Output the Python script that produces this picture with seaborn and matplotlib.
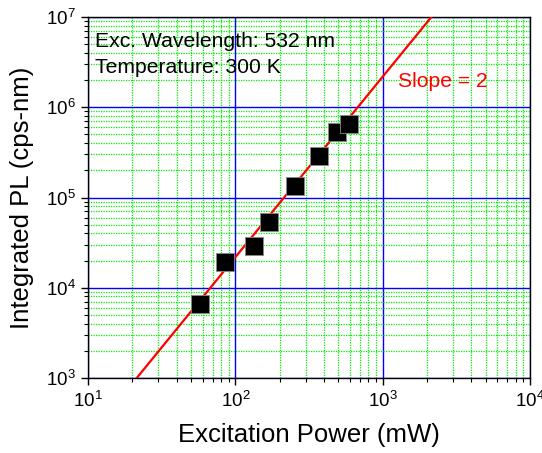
import numpy as np
import pandas as pd
import matplotlib
matplotlib.use("Agg")
import matplotlib.pyplot as plt
import seaborn as sns
from matplotlib.ticker import LogLocator, NullFormatter

# ---- data ----
power_mw = [57.8, 85.1, 134.5, 169.2, 254.0, 368.0, 487.0, 594.0]
integrated_pl = [6600, 19100, 29000, 53900, 135000, 290000, 527000, 647000]

fit_slope = 2.0
fit_coef = 2.18          # PL = coef * P^slope
fit_x_range = [10.0, 10000.0]

x_label = "Excitation Power (mW)"
y_label = "Integrated PL (cps-nm)"
annot_lines = ["Exc. Wavelength: 532 nm", "Temperature: 300 K"]
slope_label = "Slope = 2"

sns.set_theme(style="white")
plt.rcParams["font.family"] = ["Liberation Sans", "DejaVu Sans"]
plt.rcParams["mathtext.fontset"] = "custom"
plt.rcParams["mathtext.rm"] = "Liberation Sans"
plt.rcParams["text.color"] = "black"
plt.rcParams["axes.labelcolor"] = "black"

fig = plt.figure(figsize=(5.42, 4.53), dpi=100)
ax = fig.add_axes([88 / 542, 1 - 378 / 453, (530 - 88) / 542, (378 - 17) / 453])

df = pd.DataFrame({"P": power_mw, "PL": integrated_pl})
fx = np.logspace(np.log10(fit_x_range[0]), np.log10(fit_x_range[1]), 50)
fit_df = pd.DataFrame({"P": fx, "PL": fit_coef * fx ** fit_slope})

ax.set_xscale("log")
ax.set_yscale("log")

sns.lineplot(data=fit_df, x="P", y="PL", ax=ax, color="#ff0000", lw=1.6, zorder=3)
sns.scatterplot(data=df, x="P", y="PL", ax=ax, marker="s", s=150, color="black",
                edgecolor="#888888", linewidth=0.6, zorder=4)

ax.set_xlim(10, 1e4)
ax.set_ylim(1e3, 1e7)

ax.xaxis.set_major_locator(LogLocator(base=10, numticks=10))
ax.yaxis.set_major_locator(LogLocator(base=10, numticks=10))
ax.xaxis.set_minor_locator(LogLocator(base=10, subs=np.arange(2, 10), numticks=10))
ax.yaxis.set_minor_locator(LogLocator(base=10, subs=np.arange(2, 10), numticks=10))
ax.xaxis.set_minor_formatter(NullFormatter())
ax.yaxis.set_minor_formatter(NullFormatter())

ax.grid(which="minor", color="#00ee00", linestyle=(0, (1, 1)), linewidth=0.9)
ax.grid(which="major", color="#0000ff", linestyle="-", linewidth=1.0)
ax.set_axisbelow(True)

for sp in ax.spines.values():
    sp.set_color("black")
    sp.set_linewidth(1.0)

ax.tick_params(which="major", direction="out", length=5, width=1, colors="black",
               labelsize=13.5, bottom=True, left=True, top=False, right=False, pad=4)
ax.tick_params(which="minor", direction="out", length=3, width=0.8, colors="black",
               bottom=True, left=True, top=False, right=False)

ax.set_xlabel(x_label, fontsize=18.5, labelpad=9, color="black")
ax.set_ylabel(y_label, fontsize=18.5, labelpad=8, color="black")

ax.text(0.016, 0.931, annot_lines[0], transform=ax.transAxes, fontsize=15.2,
        va="center", ha="left", color="black")
ax.text(0.016, 0.859, annot_lines[1], transform=ax.transAxes, fontsize=15.2,
        va="center", ha="left", color="black")
ax.text(0.702, 0.82, slope_label, transform=ax.transAxes, fontsize=15.2,
        va="center", ha="left", color="#ff0000")

fig.savefig("out.png", dpi=100)
